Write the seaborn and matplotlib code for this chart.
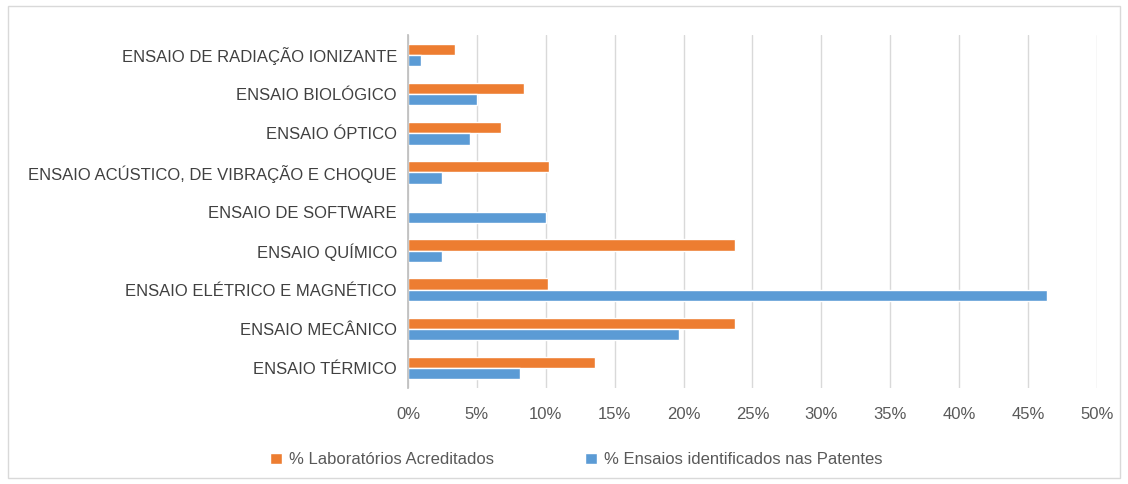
import seaborn as sns
import pandas as pd
import matplotlib.pyplot as plt
from matplotlib.patches import Rectangle
from matplotlib.ticker import PercentFormatter

categorias = [
    "ENSAIO DE RADIAÇÃO IONIZANTE",
    "ENSAIO BIOLÓGICO",
    "ENSAIO ÓPTICO",
    "ENSAIO ACÚSTICO, DE VIBRAÇÃO E CHOQUE",
    "ENSAIO DE SOFTWARE",
    "ENSAIO QUÍMICO",
    "ENSAIO ELÉTRICO E MAGNÉTICO",
    "ENSAIO MECÂNICO",
    "ENSAIO TÉRMICO",
]
laboratorios = [3.4, 8.45, 6.75, 10.2, 0.0, 23.7, 10.15, 23.7, 13.6]
patentes = [0.95, 5.0, 4.5, 2.5, 10.05, 2.5, 46.4, 19.7, 8.1]
series = ["% Laboratórios Acreditados", "% Ensaios identificados nas Patentes"]
cores = ["#ED7D31", "#5B9BD5"]

sns.set_theme(style="white")
plt.rcParams["font.family"] = ["Liberation Sans Narrow", "Liberation Sans", "DejaVu Sans"]

data = pd.DataFrame({
    "categoria": categorias * 2,
    "valor": laboratorios + patentes,
    "serie": [series[0]] * len(categorias) + [series[1]] * len(categorias),
})

fig = plt.figure(figsize=(11.28, 4.84), dpi=100)
ax = fig.add_axes([0.3617, 0.199, 0.6108, 0.728])

sns.barplot(data=data, y="categoria", x="valor", hue="serie", hue_order=series,
            palette=cores, order=categorias, orient="h", width=0.58,
            saturation=1, ax=ax)

ax.set_xlim(0, 50)
ax.set_xticks(range(0, 51, 5))
ax.xaxis.set_major_formatter(PercentFormatter(decimals=0))
ax.grid(axis="x", color="#d9d9d9", linewidth=1)
ax.set_axisbelow(True)
for s in ["top", "right", "bottom"]:
    ax.spines[s].set_visible(False)
ax.spines["left"].set_color("#bfbfbf")
ax.set_xlabel("")
ax.set_ylabel("")
ax.tick_params(axis="y", labelsize=12, colors="#404040", length=0, pad=8)
ax.tick_params(axis="x", labelsize=12, colors="#595959", length=0, pad=14)

ax.legend(loc="center", bbox_to_anchor=(0.511, 0.05), bbox_transform=fig.transFigure,
          ncol=2, frameon=False, fontsize=12, handlelength=0.7, handleheight=0.7,
          columnspacing=5.5, handletextpad=0.4, labelcolor="#595959")

fig.patches.append(Rectangle((0.007, 0.012), 0.986, 0.975, transform=fig.transFigure,
                             fill=False, edgecolor="#d9d9d9", linewidth=1))

fig.savefig("out.png", dpi=100)
